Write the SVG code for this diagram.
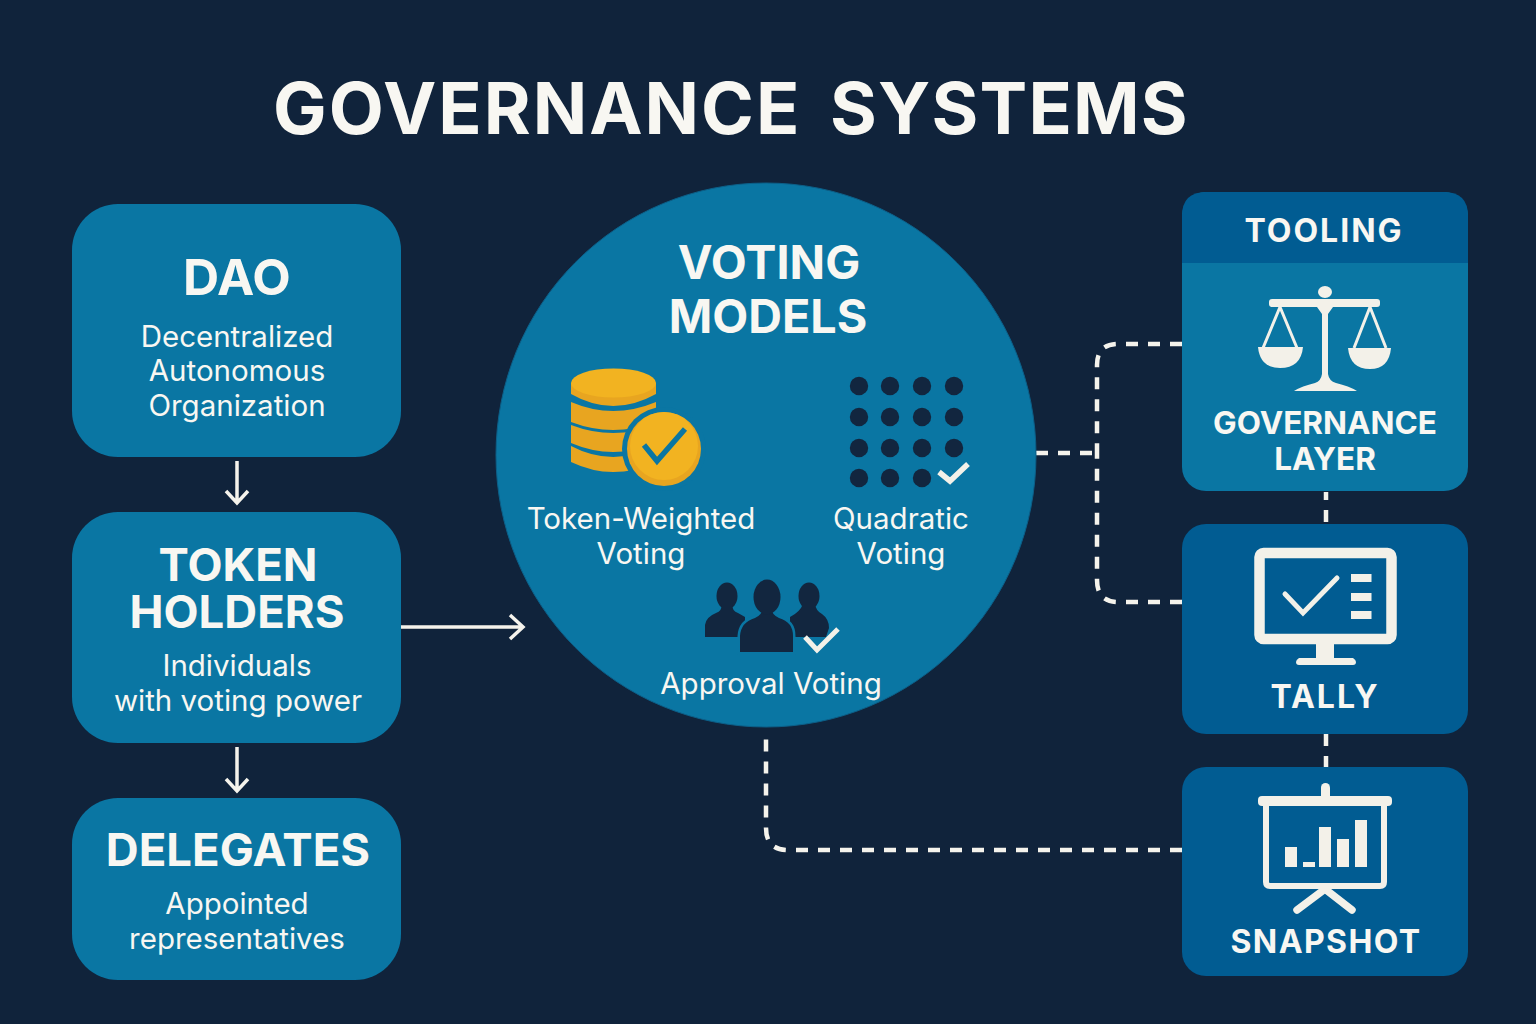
<svg xmlns="http://www.w3.org/2000/svg" width="1536" height="1024" viewBox="0 0 1536 1024">
<style>
text{font-family:Inter,"Liberation Sans",sans-serif;fill:#f8f7f2;text-anchor:middle}
.h{font-weight:700;font-size:45.500px}
.b{font-weight:400;font-size:29.500px}
.t{font-weight:700;font-size:32px}
.teal{fill:#0a76a3}
.navy{fill:#015c92}
.dash{fill:none;stroke:#f5f3ec;stroke-width:4.500;stroke-dasharray:12 10}
.solid{fill:none;stroke:#f5f3ec;stroke-width:3.500}
.ic{fill:#f3f1e9}
.icl{fill:none;stroke:#f3f1e9}
.dk{fill:#12263f}
.dot{fill:#12263f}
.gold{fill:#e8a520}
</style>
<rect width="1536" height="1024" fill="#10233b"/>
<text y="134" style="font-size:71.500px;font-weight:700;letter-spacing:2px;text-anchor:start"><tspan x="273">GOVERNANCE</tspan><tspan x="830" style="letter-spacing:1.200px">SYSTEMS</tspan></text>

<g id="connectors">
<path class="dash" d="M1182 344H1118Q1097 344 1097 365V453"/>
<path class="dash" d="M1182 602H1118Q1097 602 1097 580V453"/>
<path class="dash" d="M1036 453H1097"/>
<path class="dash" d="M1326 492V524" stroke-dashoffset="4"/>
<path class="dash" d="M1326 734V767"/>
<path class="dash" d="M1182 850H788Q766 850 766 828V730"/>
<path class="solid" d="M237 461V502M226 491L237 503L248 491"/>
<path class="solid" d="M237 747V790M226 779L237 791L248 779"/>
<path class="solid" d="M401 627H522M510 615L523 627L510 639"/>
</g>

<g id="dao">
<rect class="teal" x="72" y="204" width="329" height="253" rx="46"/>
<text class="h" x="237" y="294.500" style="font-size:50px">DAO</text>
<text class="b" x="237" y="346.500">Decentralized</text>
<text class="b" x="237" y="381">Autonomous</text>
<text class="b" x="237" y="415.500">Organization</text>
</g>

<g id="token-holders">
<rect class="teal" x="72" y="512" width="329" height="231" rx="46"/>
<text class="h" x="238" y="581">TOKEN</text>
<text class="h" x="237" y="628">HOLDERS</text>
<text class="b" x="237" y="676">Individuals</text>
<text class="b" x="238" y="711">with voting power</text>
</g>

<g id="delegates">
<rect class="teal" x="72" y="798" width="329" height="182" rx="46"/>
<text class="h" x="238" y="866">DELEGATES</text>
<text class="b" x="237" y="914">Appointed</text>
<text class="b" x="237" y="948.500">representatives</text>
</g>

<g id="voting-models">
<ellipse class="teal" cx="766" cy="455" rx="270" ry="272" stroke="#0c5f88" stroke-width="1"/>
<text class="h" x="769" y="279" style="font-size:46.700px">VOTING</text>
<text class="h" x="768" y="333" style="font-size:46.700px">MODELS</text>
<g id="coins">
<path class="gold" d="M571 446Q613 468 656 446V462Q613 482 571 462Z"/>
<path class="gold" d="M571 425Q613 441 656 425V443Q613 461 571 443Z"/>
<path class="gold" d="M571 402Q613 420 656 402V422Q613 438 571 422Z"/>
<path class="gold" d="M571 383V394Q613 418 656 394V383Z"/>
<ellipse cx="613.500" cy="383" rx="42.500" ry="14.500" fill="#f2b321"/>
<circle cx="664" cy="449" r="42" fill="#0a76a3"/>
<circle cx="664" cy="449" r="37" class="gold"/>
<circle cx="664" cy="446" r="34" fill="#f2b321"/>
<path d="M644 445L657 461L685 429" fill="none" stroke="#0a76a3" stroke-width="5.500"/>
</g>
<g id="dots">
<circle class="dot" cx="859" cy="386" r="9.200"/><circle class="dot" cx="890" cy="386" r="9.200"/><circle class="dot" cx="922" cy="386" r="9.200"/><circle class="dot" cx="954" cy="386" r="9.200"/>
<circle class="dot" cx="859" cy="417" r="9.200"/><circle class="dot" cx="890" cy="417" r="9.200"/><circle class="dot" cx="922" cy="417" r="9.200"/><circle class="dot" cx="954" cy="417" r="9.200"/>
<circle class="dot" cx="859" cy="448" r="9.200"/><circle class="dot" cx="890" cy="448" r="9.200"/><circle class="dot" cx="922" cy="448" r="9.200"/><circle class="dot" cx="954" cy="448" r="9.200"/>
<circle class="dot" cx="859" cy="478" r="9.200"/><circle class="dot" cx="890" cy="478" r="9.200"/><circle class="dot" cx="922" cy="478" r="9.200"/>
<path d="M939 472L950 481L968 464" fill="none" stroke="#f3f1e9" stroke-width="5.500"/>
</g>
<text class="b" x="641" y="528.500">Token-Weighted</text>
<text class="b" x="641" y="563.500">Voting</text>
<text class="b" x="901" y="528.500">Quadratic</text>
<text class="b" x="901" y="563.500">Voting</text>
<g id="people">
<ellipse class="dk" cx="727" cy="596" rx="10.500" ry="13.500"/>
<path class="dk" d="M705 637V625Q706 617 716 613Q722 611 722 604H732Q732 611 738 613L745 617V637Z"/>
<ellipse class="dk" cx="809" cy="596" rx="10.500" ry="13.500"/>
<path class="dk" d="M790 617Q800 612 803 604H815Q816 611 822 614Q829 619 829 628L826 637H790Z"/>
<path class="dk" d="M740 652V636Q741 622 755 618Q762 615 763 608H771Q772 615 779 618Q793 622 793 636V652Z" stroke="#0a76a3" stroke-width="5" paint-order="stroke"/>
<ellipse class="dk" cx="767" cy="597" rx="13.500" ry="17.500"/>
<path d="M805 637L817 650L838 629" fill="none" stroke="#f3f1e9" stroke-width="5"/>
</g>
<text class="b" x="771" y="693.500">Approval Voting</text>
</g>

<g id="governance-layer">
<rect class="teal" x="1182" y="192" width="286" height="299" rx="24"/>
<path class="navy" d="M1182 263V216Q1182 192 1206 192H1444Q1468 192 1468 216V263Z"/>
<text class="t" x="1324" y="242" style="letter-spacing:2px">TOOLING</text>
<g id="scales">
<ellipse class="ic" cx="1325" cy="292" rx="7" ry="6"/>
<rect class="ic" x="1269" y="299" width="111" height="8" rx="3"/>
<path class="ic" d="M1317 307H1333L1328 314V374Q1329 381 1336 383Q1349 386 1357 391H1294Q1302 386 1315 383Q1321 381 1322 374V314Z"/>
<path class="icl" stroke-width="3" d="M1280 307L1263 348M1280 307L1297 348M1370 307L1354 348M1370 307L1386 348"/>
<path class="ic" d="M1258 347H1303Q1301 368 1280 368Q1260 368 1258 347Z"/>
<path class="ic" d="M1348 348H1391Q1389 369 1370 369Q1350 369 1348 348Z"/>
</g>
<text class="t" x="1325" y="434" style="font-size:31.500px">GOVERNANCE</text>
<text class="t" x="1325" y="470" style="font-size:31.500px">LAYER</text>
</g>

<g id="tally">
<rect class="navy" x="1182" y="524" width="286" height="210" rx="24"/>
<rect class="icl" x="1259.500" y="553" width="132" height="86" rx="4" stroke-width="10.500"/>
<path class="ic" d="M1316 644H1334V658H1353Q1356 660 1356 662Q1356 665 1353 665H1299Q1296 665 1296 662Q1296 660 1299 658H1316Z"/>
<path class="icl" stroke-width="5" stroke-linecap="round" d="M1285 594L1303 613L1337 578"/>
<rect class="ic" x="1351" y="574" width="20.500" height="8"/><rect class="ic" x="1351" y="593" width="20.500" height="8"/><rect class="ic" x="1351" y="611" width="20.500" height="8"/>
<text class="t" x="1325" y="708" style="letter-spacing:2px">TALLY</text>
</g>

<g id="snapshot">
<rect class="navy" x="1182" y="767" width="286" height="209" rx="24"/>
<rect class="ic" x="1321" y="783" width="9" height="18" rx="4.500"/>
<rect class="ic" x="1258" y="796" width="134" height="10" rx="4"/>
<path class="icl" stroke-width="6" d="M1266 804V882Q1266 886 1270 886H1380Q1384 886 1384 882V804"/>
<rect class="ic" x="1285" y="847" width="12" height="20"/><rect class="ic" x="1303" y="862" width="12" height="5"/><rect class="ic" x="1319" y="827" width="12" height="40"/><rect class="ic" x="1337" y="839" width="12" height="28"/><rect class="ic" x="1355" y="820" width="12" height="47"/>
<path class="icl" stroke-width="7.500" stroke-linecap="round" d="M1325 889L1297 910M1325 889L1352 910"/>
<text class="t" x="1326" y="953" style="letter-spacing:1.400px">SNAPSHOT</text>
</g>
</svg>
